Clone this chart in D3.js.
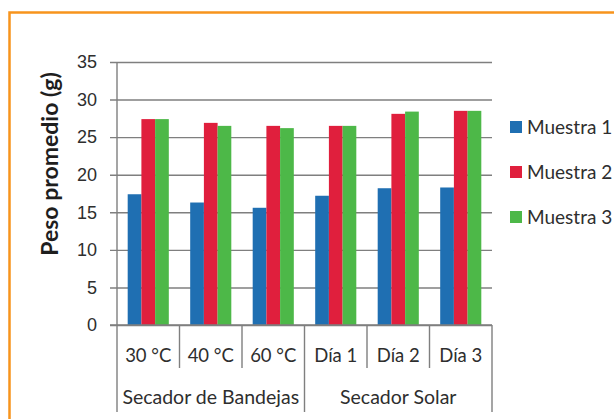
<!DOCTYPE html>
<html>
<head>
<meta charset="utf-8">
<script src="https://cdn.jsdelivr.net/npm/d3@7"></script>
<style>
  html, body { margin: 0; padding: 0; background: #fff; overflow: hidden; }
  svg { display: block; font-family: Lato, "Open Sans", sans-serif; }
</style>
</head>
<body>
<svg id="chart" width="614" height="419"></svg>
<script>
// categories and groups
const categories = ["30 °C", "40 °C", "60 °C", "Día 1", "Día 2", "Día 3"];
const groups = [
  { name: "Secador de Bandejas", from: 0, to: 3 },
  { name: "Secador Solar", from: 3, to: 6 }
];
const seriesNames = ["Muestra 1", "Muestra 2", "Muestra 3"];
const seriesColors = ["#1f6fb2", "#e01f3d", "#4db848"];

// values
const muestra1 = [17.4, 16.3, 15.6, 17.2, 18.2, 18.3];
const muestra2 = [27.4, 26.9, 26.5, 26.5, 28.1, 28.5];
const muestra3 = [27.4, 26.5, 26.2, 26.5, 28.4, 28.5];
const yTicks = [0, 5, 10, 15, 20, 25, 30, 35];

const series = [muestra1, muestra2, muestra3];

const svg = d3.select("#chart");

// orange frame (left and top only visible)
svg.append("path")
  .attr("d", "M9.5,419 V12.5 H614")
  .attr("fill", "none")
  .attr("stroke", "#f7941d")
  .attr("stroke-width", 2.5);

const plot = { left: 117, right: 492, top: 62, bottom: 325 };
const textColor = "#2e2e2e";
const lineColor = "#7f7f7f";

const x = d3.scaleBand()
  .domain(d3.range(categories.length))
  .range([plot.left, plot.right]);

// bars sit in the middle of each category, gaps either side
const xInner = d3.scaleBand()
  .domain(d3.range(series.length))
  .range([0, x.bandwidth()])
  .paddingOuter(0.78)
  .paddingInner(0);

const y = d3.scaleLinear().domain([0, 35]).range([plot.bottom, plot.top]);

// gridlines + tick marks
const yAxis = d3.axisLeft(y)
  .tickValues(yTicks)
  .tickSize(-(plot.right - plot.left))
  .tickPadding(20);

const gy = svg.append("g")
  .attr("transform", `translate(${plot.left},0)`)
  .call(yAxis);
gy.select(".domain").remove();
gy.selectAll(".tick line")
  .attr("x1", -7)
  .attr("stroke", lineColor)
  .attr("stroke-width", 1.4);
gy.selectAll(".tick text")
  .attr("fill", textColor)
  .style("font-size", "18px");

// y axis line
svg.append("line")
  .attr("x1", plot.left).attr("x2", plot.left)
  .attr("y1", plot.top).attr("y2", plot.bottom)
  .attr("stroke", lineColor).attr("stroke-width", 1.4);

// bars
series.forEach((vals, s) => {
  svg.append("g")
    .selectAll("rect")
    .data(vals)
    .join("rect")
    .attr("x", (d, i) => x(i) + xInner(s))
    .attr("width", xInner.bandwidth())
    .attr("y", d => y(d))
    .attr("height", d => y(0) - y(d))
    .attr("fill", seriesColors[s]);
});

// x axis baseline
svg.append("line")
  .attr("x1", plot.left - 7).attr("x2", plot.right)
  .attr("y1", plot.bottom).attr("y2", plot.bottom)
  .attr("stroke", lineColor).attr("stroke-width", 1.4);

// category dividers
const groupEdges = new Set(groups.flatMap(g => [g.from, g.to]));
d3.range(categories.length + 1).forEach(i => {
  const xp = i < categories.length ? x(i) : plot.right;
  svg.append("line")
    .attr("x1", xp).attr("x2", xp)
    .attr("y1", plot.bottom)
    .attr("y2", groupEdges.has(i) ? 412 : 368)
    .attr("stroke", lineColor).attr("stroke-width", 1.4);
});

// category labels
svg.append("g")
  .selectAll("text")
  .data(categories)
  .join("text")
  .attr("x", (d, i) => x(i) + x.bandwidth() / 2)
  .attr("y", 362)
  .attr("text-anchor", "middle")
  .attr("fill", textColor)
  .style("font-size", "18.5px")
  .text(d => d);

// group labels
svg.append("g")
  .selectAll("text")
  .data(groups)
  .join("text")
  .attr("x", g => (x(g.from) + (g.to < categories.length ? x(g.to) : plot.right)) / 2)
  .attr("y", 404)
  .attr("text-anchor", "middle")
  .attr("fill", textColor)
  .style("font-size", "19.5px")
  .text(g => g.name);

// y title
svg.append("text")
  .attr("transform", "translate(58,164) rotate(-90)")
  .attr("text-anchor", "middle")
  .attr("fill", "#1e1e1e")
  .style("font-size", "23px")
  .style("font-weight", "bold")
  .text("Peso promedio (g)");

// legend
const legend = svg.append("g")
  .selectAll("g")
  .data(seriesNames)
  .join("g")
  .attr("transform", (d, i) => `translate(510,${127 + i * 45})`);
legend.append("rect")
  .attr("x", 0).attr("y", -6)
  .attr("width", 12).attr("height", 12)
  .attr("fill", (d, i) => seriesColors[i]);
legend.append("text")
  .attr("x", 17).attr("y", 6.5)
  .attr("fill", textColor)
  .style("font-size", "19px")
  .text(d => d);
</script>
</body>
</html>
